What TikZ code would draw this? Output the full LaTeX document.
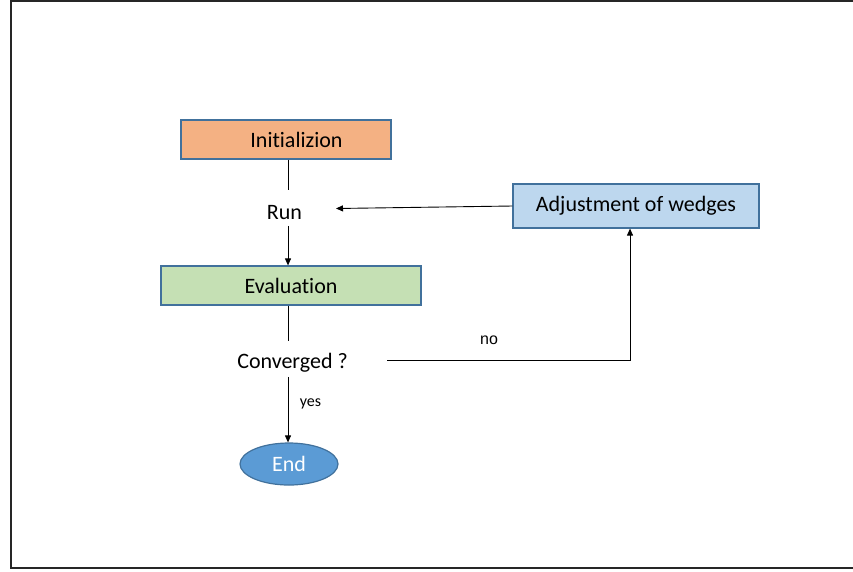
\documentclass[tikz,border=0pt]{standalone}
\usepackage{fontspec}
\setmainfont{Carlito}[Ligatures=NoCommon]
\newfontfamily\arialfont{Liberation Sans}
\usetikzlibrary{arrows.meta,shapes.geometric}
\definecolor{boxborder}{HTML}{41719C}
\definecolor{orangefill}{HTML}{F4B183}
\definecolor{greenfill}{HTML}{C5E0B4}
\definecolor{bluefill}{HTML}{BDD7EE}
\definecolor{endfill}{HTML}{5B9BD5}
\tikzset{
  boxstyle/.style={draw=boxborder, line width=1.2pt, inner sep=0pt, font=\fontsize{22}{26}\selectfont},
  plaintext/.style={inner sep=0pt, font=\fontsize{22}{26}\selectfont},
  smalllabel/.style={inner sep=0pt, font=\fontsize{16}{19}\selectfont},
  conn/.style={line width=0.9pt, draw=black},
  arr/.style={conn, -{Triangle[length=7pt,width=6pt]}},
}
\begin{document}
\begin{tikzpicture}[x=1pt,y=-1pt]
\useasboundingbox (0,0) rectangle (853,571);
% frame
\draw[line width=1.6pt, draw=black!85] (853,1) -- (11,1) -- (11,568) -- (853,568);

\node[boxstyle, fill=orangefill, minimum width=210pt, minimum height=39pt] (init) at (286,139.5) {\hspace*{21pt}Initializion};
\node[plaintext, anchor=base] (run) at (284.5,219) {Run};
\node[boxstyle, fill=greenfill, minimum width=260pt, minimum height=39pt] (eval) at (291,285.5) {Evaluation};
\node[plaintext, anchor=base] (conv) at (292.5,368) {Converged ?};
\node[boxstyle, draw=boxborder, fill=endfill, ellipse, minimum width=98pt, minimum height=42pt, text=white] (end) at (289,464) {End};
\node[boxstyle, fill=bluefill, minimum width=246pt, minimum height=44pt] (adj) at (636,206) {Adjustment of wedges};

\coordinate (nostart) at (387,360);
\coordinate (runin) at (336,208.5);

\draw[conn] (init.south -| 288,0) -- ([xshift=3.5pt,yshift=15pt]run.north);
\draw[arr] ([xshift=3.5pt,yshift=-6.5pt]run.south) -- (eval.north -| 288,0);
\draw[arr] (adj.west) -- (runin);
\draw[conn] (eval.south -| 288,0) -- ([xshift=-4.5pt,yshift=12pt]conv.north);
\draw[arr] ([xshift=-4.5pt,yshift=-5pt]conv.south) -- (end.north -| 288,0);
\draw[arr] (nostart) -| ([xshift=-6pt]adj.south);

\node[smalllabel] (yes) at (310.5,404) {yes};
\node[smalllabel, font=\arialfont\fontsize{16}{19}\selectfont] (no) at (489,340) {no};
\end{tikzpicture}
\end{document}
